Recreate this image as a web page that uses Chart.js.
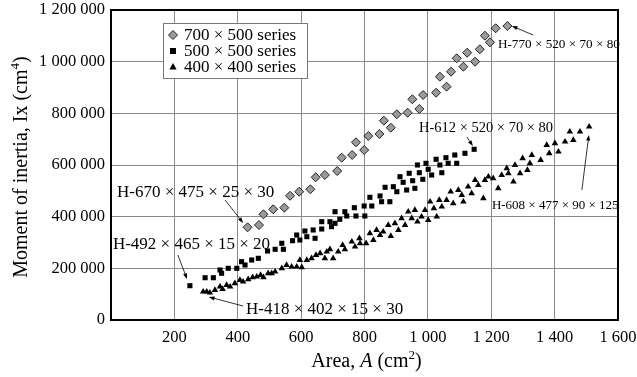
<!DOCTYPE html>
<html>
<head>
<meta charset="utf-8">
<script src="https://cdn.jsdelivr.net/npm/chart.js@4.4.0/dist/chart.umd.min.js"></script>
<style>
    html, body { margin: 0; padding: 0; background: #fff; }
    #wrap { width: 637px; height: 377px; }
</style>
</head>
<body>
<div id="wrap"><canvas id="chart"></canvas></div>
<script>
// Series names
const seriesNames = ['700 × 500 series', '500 × 500 series', '400 × 400 series'];

// 700 x 500 series: area (cm2) and Ix (cm4)
const area700 = [431, 467, 481, 512, 547, 565, 594, 629, 646, 675, 714, 728, 761, 799, 773, 812, 847, 861, 883, 902,
    936, 951, 973, 985, 1026, 1038, 1059, 1073, 1091, 1112, 1124, 1149, 1164, 1180, 1196, 1214, 1251];
const ix700 = [358800, 367700, 409200, 428500, 434700, 480800, 496600, 505900, 552400, 561300, 576800, 628300, 638700,
    658000, 687900, 712300, 720000, 771500, 744400, 796300, 802500, 854300, 816800, 871000, 879900, 941800, 903100,
    961200, 1013000, 980500, 1034700, 999900, 1047900, 1100500, 1075000, 1129200, 1138100];

// 500 x 500 series
const area500 = [249, 297, 323, 344, 349, 370, 397, 412, 423, 444, 465, 494, 518, 539, 544, 573, 586, 596, 612, 618,
    638, 644, 665, 665, 691, 696, 707, 707, 722, 738, 744, 768, 773, 799, 801, 817, 823, 849, 854, 865, 880, 891, 902,
    912, 922, 933, 941, 952, 959, 967, 973, 984, 994, 1001, 1012, 1026, 1038, 1044, 1057, 1064, 1085, 1091, 1117, 1146];
const ix500 = [132800, 163700, 163700, 193600, 180800, 200100, 200100, 225700, 212900, 232300, 238800, 267100, 273700,
    296900, 273700, 307000, 329000, 309700, 344500, 322500, 348400, 316300, 352300, 380500, 380500, 361200, 419200,
    374300, 389800, 419200, 402600, 434700, 402600, 441300, 402600, 475000, 441300, 480000, 457900, 513700, 457900,
    516000, 496600, 554700, 533000, 503200, 567900, 539200, 509800, 600000, 570200, 544600, 606600, 583400, 561300,
    622100, 600000, 570200, 628300, 606600, 638700, 606600, 645300, 660800];

// 400 x 400 series
const area400 = [291, 302, 312, 328, 344, 352, 365, 376, 391, 407, 417, 433, 447, 460, 472, 481, 496, 507, 518, 539,
    554, 570, 586, 602, 596, 618, 633, 647, 660, 675, 681, 691, 701, 717, 731, 738, 760, 770, 784, 786, 805, 817, 828,
    838, 849, 859, 875, 883, 896, 907, 917, 928, 938, 949, 959, 967, 980, 991, 1001, 1007, 1019, 1028, 1036, 1044,
    1059, 1072, 1080, 1096, 1107, 1112, 1127, 1138, 1149, 1159, 1175, 1180, 1191, 1206, 1222, 1233, 1249, 1254, 1270,
    1275, 1291, 1299, 1314, 1322, 1328, 1356, 1375, 1383, 1401, 1412, 1433, 1448, 1459, 1480, 1509];
const ix400 = [109500, 109500, 105700, 116100, 128900, 120000, 135500, 128900, 142100, 154800, 148300, 157600, 165300,
    167600, 174200, 165300, 180800, 180800, 187000, 200100, 212900, 206300, 206300, 204000, 232300, 232300, 238800,
    251600, 258200, 238800, 264400, 273700, 238800, 264400, 290300, 273700, 303100, 283700, 316300, 296900, 296900,
    335600, 309700, 348400, 329000, 341800, 367700, 325200, 374300, 348400, 393700, 367700, 419200, 393700, 425800,
    380500, 399900, 425800, 387100, 457900, 432400, 399900, 464500, 438600, 464500, 496600, 451700, 503200, 483900,
    457900, 516000, 490400, 541900, 522600, 471100, 541900, 554700, 548500, 509800, 561300, 587200, 567900, 535400,
    600000, 567900, 625900, 580600, 606600, 638700, 619300, 677400, 645300, 684000, 651500, 690200, 728900, 696800,
    728900, 748300];

// Section callouts (text, text anchor, arrow tail, arrow head) in data units
const noteText = ['H-770 × 520 × 70 × 80', 'H-612 × 520 × 70 × 80', 'H-608 × 477 × 90 × 125',
    'H-670 × 475 × 25 × 30', 'H-492 × 465 × 15 × 20', 'H-418 × 402 × 15 × 30'];
const noteAt = [[1221, 1064800], [972, 743200], [1202, 441300], [19, 491600], [6, 290300], [426, 38700]];
const arrowFrom = [[1332, 1103200], [1123, 708400], [1486, 503200], [360, 464500], [211, 251600], [417, 54200]];
const arrowTo = [[1265, 1138100], [1142, 673600], [1508, 716100], [417, 375500], [240, 158700], [309, 89000]];
const noteSize = [13.2, 14.5, 13, 17, 17, 17];

const SERIF = '"Liberation Serif", "Times New Roman", serif';

function pairs(xs, ys) {
    return xs.map((x, i) => ({ x: x, y: ys[i] }));
}

function spaced(v) {
    return String(v).replace(/\B(?=(\d{3})+(?!\d))/g, ' ');
}

function drawMarker(ctx, style, x, y) {
    ctx.beginPath();
    if (style === 'rectRot') {
        ctx.moveTo(x, y - 4.5); ctx.lineTo(x + 4.5, y); ctx.lineTo(x, y + 4.5); ctx.lineTo(x - 4.5, y);
        ctx.closePath();
        ctx.fillStyle = '#9a9a9a'; ctx.strokeStyle = '#222'; ctx.lineWidth = 1;
        ctx.fill(); ctx.stroke();
    } else if (style === 'rect') {
        ctx.fillStyle = '#000';
        ctx.fillRect(x - 3, y - 3, 6, 6);
    } else {
        ctx.moveTo(x, y - 4); ctx.lineTo(x + 3.6, y + 2.6); ctx.lineTo(x - 3.6, y + 2.6);
        ctx.closePath();
        ctx.fillStyle = '#000';
        ctx.fill();
    }
}

// draws a run of [text, font, raise] pieces starting at x
function drawRuns(ctx, runs, x, y) {
    for (const r of runs) {
        ctx.font = r[1];
        ctx.fillText(r[0], x, y - (r[2] || 0));
        x += ctx.measureText(r[0]).width;
    }
}

function runsWidth(ctx, runs) {
    let w = 0;
    for (const r of runs) { ctx.font = r[1]; w += ctx.measureText(r[0]).width; }
    return w;
}

const decorations = {
    id: 'decorations',
    beforeDatasetsDraw(chart) {
        const { ctx, chartArea: a } = chart;
        ctx.save();
        ctx.strokeStyle = '#000';
        ctx.lineWidth = 2;
        ctx.strokeRect(a.left, a.top, a.right - a.left, a.bottom - a.top);
        ctx.restore();
    },
    afterDraw(chart) {
        const { ctx, chartArea: a, scales: { x, y } } = chart;
        ctx.save();
        ctx.fillStyle = '#000';
        ctx.textBaseline = 'middle';

        // callouts
        noteText.forEach((t, i) => {
            ctx.font = noteSize[i] + 'px ' + SERIF;
            ctx.fillStyle = '#000';
            ctx.textAlign = 'left';
            ctx.fillText(t, x.getPixelForValue(noteAt[i][0]), y.getPixelForValue(noteAt[i][1]));

            const x0 = x.getPixelForValue(arrowFrom[i][0]), y0 = y.getPixelForValue(arrowFrom[i][1]);
            const x1 = x.getPixelForValue(arrowTo[i][0]), y1 = y.getPixelForValue(arrowTo[i][1]);
            const ang = Math.atan2(y1 - y0, x1 - x0);
            ctx.strokeStyle = '#000';
            ctx.lineWidth = 0.8;
            ctx.beginPath(); ctx.moveTo(x0, y0); ctx.lineTo(x1 - 4 * Math.cos(ang), y1 - 4 * Math.sin(ang)); ctx.stroke();
            ctx.beginPath();
            ctx.moveTo(x1, y1);
            ctx.lineTo(x1 - 6 * Math.cos(ang - 0.35), y1 - 6 * Math.sin(ang - 0.35));
            ctx.lineTo(x1 - 6 * Math.cos(ang + 0.35), y1 - 6 * Math.sin(ang + 0.35));
            ctx.closePath();
            ctx.fill();
        });

        // legend box
        const lx = a.left + 52, ly = a.top + 13;
        ctx.fillStyle = '#fff';
        ctx.fillRect(lx, ly, 144, 55);
        ctx.strokeStyle = '#777';
        ctx.lineWidth = 1;
        ctx.strokeRect(lx + 0.5, ly + 0.5, 144, 55);
        const styles = ['rectRot', 'rect', 'triangle'];
        seriesNames.forEach((name, i) => {
            const cy = ly + 12 + i * 16;
            drawMarker(ctx, styles[i], lx + 10, cy);
            ctx.fillStyle = '#000';
            ctx.font = '17px ' + SERIF;
            ctx.textAlign = 'left';
            ctx.fillText(name, lx + 21, cy + 1);
        });

        // axis titles
        ctx.fillStyle = '#000';
        ctx.textAlign = 'left';
        const big = '20px ' + SERIF, sup = '13px ' + SERIF;
        const xRuns = [['Area, ', big], ['A', 'italic ' + big], [' (cm', big], ['2', sup, 6], [')', big]];
        const xw = runsWidth(ctx, xRuns);
        drawRuns(ctx, xRuns, (a.left + a.right) / 2 - xw / 2 + 2, 362);

        const yRuns = [['Moment of inertia, Ix (cm', big], ['4', sup, 6], [')', big]];
        const yw = runsWidth(ctx, yRuns);
        ctx.translate(22, (a.top + a.bottom) / 2 + 2);
        ctx.rotate(-Math.PI / 2);
        drawRuns(ctx, yRuns, -yw / 2, 0);
        ctx.restore();
    }
};

document.addEventListener('DOMContentLoaded', function () {
    const canvas = document.getElementById('chart');
    const grid = { color: '#8a8a8a', lineWidth: 1, drawTicks: false };

    new Chart(canvas, {
        type: 'scatter',
        data: {
            datasets: [{
                label: seriesNames[0],
                data: pairs(area700, ix700),
                pointStyle: 'rectRot',
                pointRadius: 4.5,
                backgroundColor: '#9a9a9a',
                borderColor: '#222',
                borderWidth: 1
            }, {
                label: seriesNames[1],
                data: pairs(area500, ix500),
                pointStyle: 'rect',
                pointRadius: 3.6,
                backgroundColor: '#000',
                borderColor: '#000',
                borderWidth: 0
            }, {
                label: seriesNames[2],
                data: pairs(area400, ix400),
                pointStyle: 'triangle',
                pointRadius: 3.8,
                backgroundColor: '#000',
                borderColor: '#000',
                borderWidth: 0
            }]
        },
        options: {
            responsive: true,
            maintainAspectRatio: false,
            animation: false,
            layout: { padding: 0 },
            plugins: {
                legend: { display: false },
                tooltip: { enabled: false }
            },
            scales: {
                x: {
                    type: 'linear',
                    min: 0,
                    max: 1600,
                    grid: grid,
                    border: { display: false },
                    ticks: {
                        stepSize: 200,
                        padding: 8,
                        color: '#000',
                        font: { family: SERIF, size: 16.5 },
                        maxRotation: 0,
                        callback: v => v === 0 ? '' : spaced(v)
                    },
                    afterFit: s => { s.height = 57; s.paddingLeft = 0; s.paddingRight = 19; }
                },
                y: {
                    min: 0,
                    max: 1200000,
                    grid: grid,
                    border: { display: false },
                    ticks: {
                        stepSize: 200000,
                        padding: 6,
                        color: '#000',
                        font: { family: SERIF, size: 16.5 },
                        callback: v => spaced(v)
                    },
                    afterFit: s => { s.width = 111; s.paddingTop = 10; s.paddingBottom = 0; }
                }
            }
        },
        plugins: [decorations]
    });
});
</script>
</body>
</html>
